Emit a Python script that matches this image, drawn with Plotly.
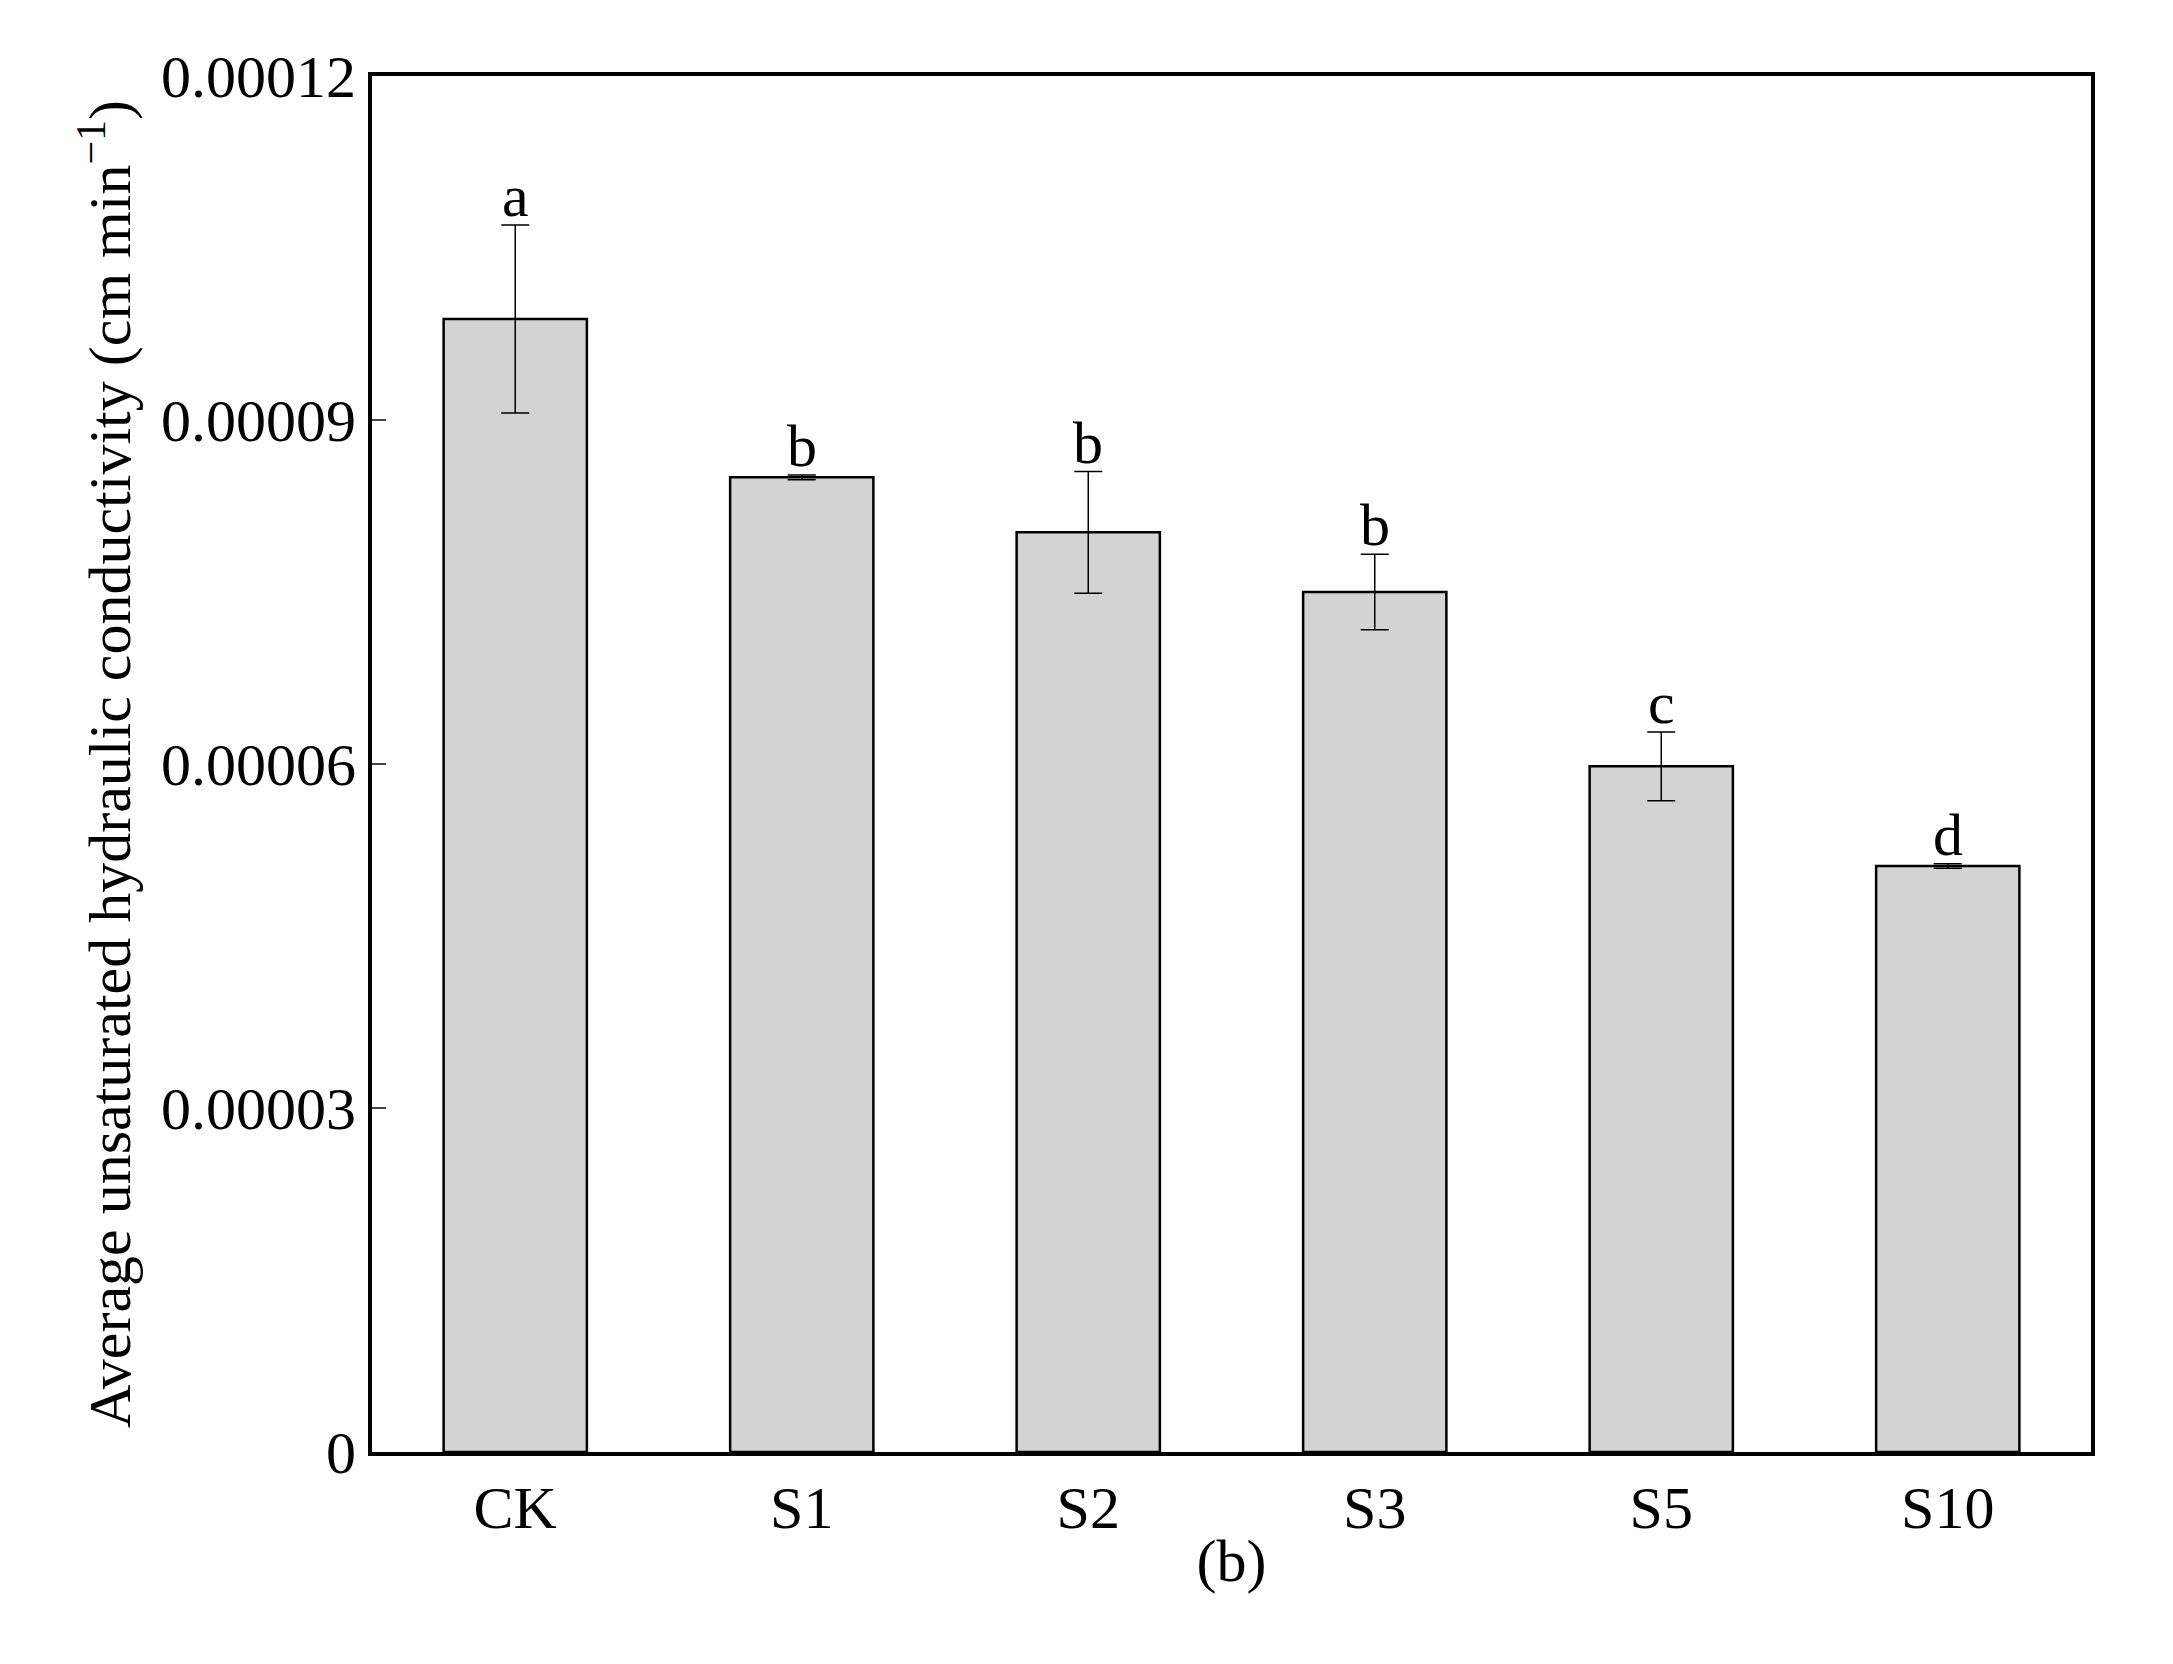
import plotly.graph_objects as go

categories = ["CK", "S1", "S2", "S3", "S5", "S10"]
values = [9.88e-5, 8.50e-5, 8.02e-5, 7.50e-5, 5.98e-5, 5.11e-5]
errors = [0.82e-5, 0.02e-5, 0.53e-5, 0.33e-5, 0.30e-5, 0.02e-5]
letters = ["a", "b", "b", "b", "c", "d"]
yticks = [0, 0.00003, 0.00006, 0.00009, 0.00012]
ytick_text = ["0", "0.00003", "0.00006", "0.00009", "0.00012"]

FS = 60
fig = go.Figure()
fig.add_trace(go.Bar(
    x=categories, y=values, width=0.5,
    marker=dict(color="#d3d3d3", line=dict(color="black", width=2.5)),
    error_y=dict(type="data", array=errors, color="black", thickness=1.5, width=14),
))
for c, v, e, l in zip(categories, values, errors, letters):
    fig.add_annotation(x=c, y=v + e, text=l, showarrow=False, yanchor="bottom",
                       yshift=-6, font=dict(size=FS, color="black", family="Liberation Serif"))

fig.update_layout(
    width=2173, height=1664, plot_bgcolor="white", paper_bgcolor="white",
    margin=dict(l=364, r=90, t=68, b=220), showlegend=False,
    font=dict(family="Liberation Serif", size=FS, color="black"),
)
fig.update_xaxes(showline=True, linecolor="black", linewidth=4, mirror=True,
                 ticks="", tickfont=dict(size=FS), range=[-0.5, 5.5],
                 title=dict(text="(b)", font=dict(size=FS), standoff=0))
fig.update_yaxes(showline=True, linecolor="black", linewidth=4, mirror=True,
                 range=[0, 0.00012], tickvals=yticks, ticktext=ytick_text,
                 ticks="inside", ticklen=14, tickwidth=2, showgrid=False, zeroline=False,
                 tickfont=dict(size=FS),
                 title=dict(text="Average unsaturated hydraulic conductivity (cm min<sup>−1</sup>)",
                            font=dict(size=FS), standoff=12))
fig.write_html("out.html")
